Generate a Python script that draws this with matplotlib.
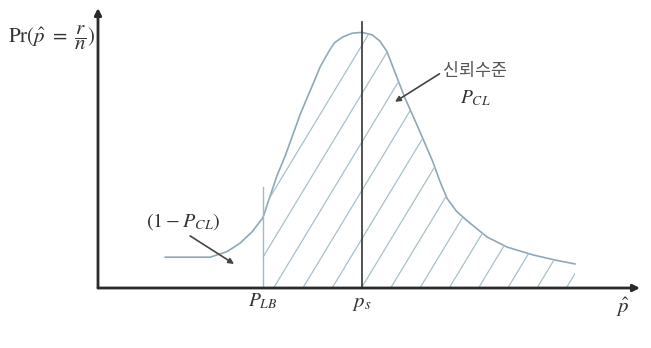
import numpy as np
import matplotlib
matplotlib.use('Agg')
import matplotlib.pyplot as plt

plt.rcParams['mathtext.fontset'] = 'stix'
plt.rcParams['font.family'] = ['Noto Sans CJK KR', 'DejaVu Sans']

# sampling distribution (x: p-hat on a 0..10 scale, y: probability)
p_hat = np.array([1.24, 1.70, 2.07, 2.38, 2.62, 2.84, 3.04, 3.30, 3.45, 3.60, 3.73,
                  3.86, 3.97, 4.10, 4.23, 4.30, 4.37, 4.52, 4.69, 4.87, 5.06, 5.20,
                  5.33, 5.52, 5.66, 5.89, 6.18, 6.31, 6.44, 6.61, 6.81, 7.18, 7.55,
                  8.03, 8.43, 8.80])
prob = np.array([0.11, 0.11, 0.11, 0.13, 0.16, 0.20, 0.25, 0.40, 0.47, 0.55, 0.62,
                 0.68, 0.73, 0.79, 0.835, 0.858, 0.877, 0.897, 0.91, 0.913, 0.904, 0.882,
                 0.845, 0.75, 0.68, 0.58, 0.45, 0.38, 0.32, 0.275, 0.24, 0.182, 0.146,
                 0.118, 0.10, 0.086])

p_lb = 3.04   # lower bound
p_s = 4.87    # point estimate

curve_col = '#8ea8b6'
hatch_col = '#a9c0ca'
axis_col = '#2a2a2a'

fig = plt.figure(figsize=(6.51, 3.48), dpi=100)
ax = fig.add_axes([98 / 651, 60 / 348, 542 / 651, 280 / 348])
ax.set_xlim(0, 10)
ax.set_ylim(0, 1)
ax.axis('off')

# axes with arrow heads
ax.annotate('', xy=(1.0, 0), xytext=(0, 0), xycoords='axes fraction',
            arrowprops=dict(arrowstyle='-|>', color=axis_col, lw=2, mutation_scale=10,
                            shrinkA=0, shrinkB=0))
ax.annotate('', xy=(0, 1.0), xytext=(0, 0), xycoords='axes fraction',
            arrowprops=dict(arrowstyle='-|>', color=axis_col, lw=2, mutation_scale=10,
                            shrinkA=0, shrinkB=0))

ax.plot(p_hat, prob, color=curve_col, lw=1.2)

# hatched confidence region, lines clipped to the area under the curve
region = ax.fill_between(p_hat, prob, where=p_hat >= p_lb, facecolor='none',
                         edgecolor='none')
clip = region.get_paths()[0]
slope = 0.32
spacing = 0.54
for c in np.arange(p_lb - 2.5, 9.0, spacing):
    ln, = ax.plot([c, c + 1.0 / slope], [0, 1.0], color=hatch_col, lw=0.9)
    ln.set_clip_path(clip, ax.transData)

ax.plot([p_lb, p_lb], [0, 0.36], color='#9fbad0', lw=1.0)
ax.plot([p_s, p_s], [0, 0.95], color='#333333', lw=1.2)

# labels
ax.text(-0.04, 0.895, r'$\mathrm{Pr}(\hat{p}\ =\ \dfrac{r}{n})$', ha='right', va='center',
        fontsize=15, color='#333333', clip_on=False)
ax.text(p_lb, -0.045, r'$P_{LB}$', ha='center', va='center', fontsize=14, color='#333333',
        clip_on=False)
ax.text(p_s, -0.05, r'$p_s$', ha='center', va='center', fontsize=15, color='#333333',
        clip_on=False)
ax.text(9.69, -0.07, r'$\hat{p}$', ha='center', va='center', fontsize=15, color='#333333',
        clip_on=False)

ax.text(6.96, 0.775, '신뢰수준', ha='center', va='center', fontsize=12.5, color='#555555')
ax.text(6.96, 0.68, r'$P_{CL}$', ha='center', va='center', fontsize=14, color='#333333')
ax.annotate('', xy=(5.48, 0.665), xytext=(6.30, 0.765),
            arrowprops=dict(arrowstyle='-|>', color='#444444', lw=1.2, mutation_scale=8,
                            shrinkA=0, shrinkB=0))

ax.text(1.57, 0.236, r'$(1-P_{CL})$', ha='center', va='center', fontsize=14.5,
        color='#333333')
ax.annotate('', xy=(2.51, 0.086), xytext=(1.70, 0.186),
            arrowprops=dict(arrowstyle='-|>', color='#444444', lw=1.2, mutation_scale=8,
                            shrinkA=0, shrinkB=0))

fig.savefig('out.png', dpi=100)
